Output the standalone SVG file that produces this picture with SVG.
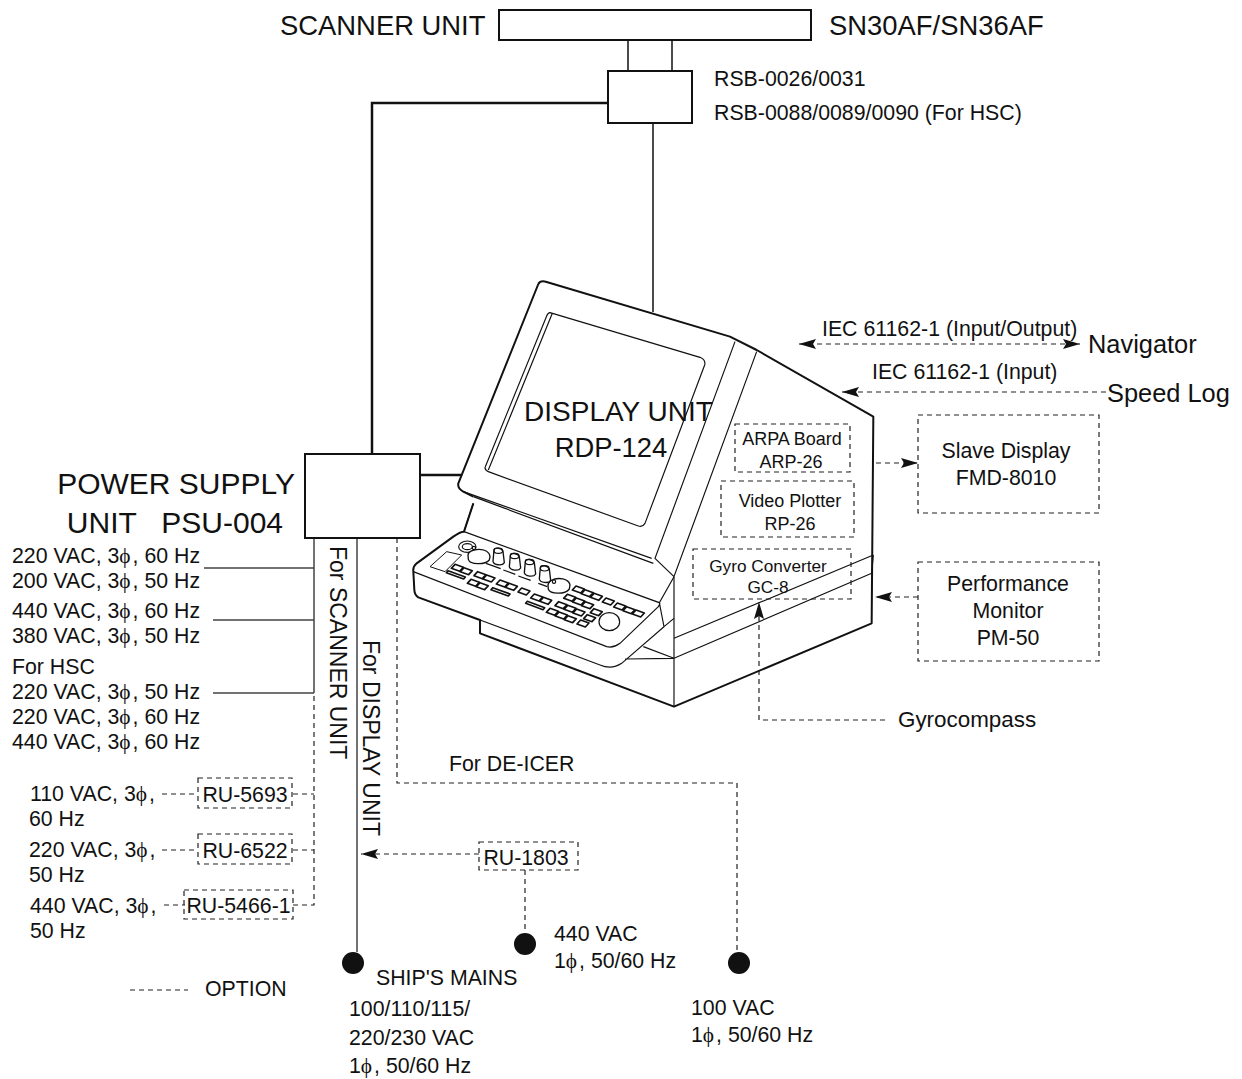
<svg xmlns="http://www.w3.org/2000/svg" xmlns:xlink="http://www.w3.org/1999/xlink" width="1242" height="1079" viewBox="0 0 1242 1079">
<style>
text{font-family:"Liberation Sans",Arial,sans-serif;fill:#111}
.s{font-size:21.3px}.m{font-size:27.4px}.l{font-size:30px}.x{font-size:18px}.nv{font-size:25.4px}.r{font-size:23px}
.p{font-family:"Liberation Serif",serif;letter-spacing:2px}
.ln{fill:none;stroke:#111;stroke-width:1.5}
.th{fill:none;stroke:#111;stroke-width:2.5}
.gr{fill:none;stroke:#444;stroke-width:1.5}
.d{fill:none;stroke:#222;stroke-width:1.2;stroke-dasharray:5 4}
.b{fill:#fff;stroke:#111;stroke-width:2}
.t{fill:none;stroke:#111;stroke-width:6;stroke-linejoin:round}
.n{fill:none;stroke:#111;stroke-width:3.5}
.w{fill:#fff;stroke:#111;stroke-width:4}
.k{fill:#fff;stroke:#111;stroke-width:5;stroke-linejoin:round}
</style>
<defs>
<marker id="a" markerWidth="19" markerHeight="12" refX="17" refY="6" orient="auto-start-reverse" markerUnits="userSpaceOnUse"><path d="M0,1 L17,6 L0,11 L3,6 Z" fill="#111"/></marker>
<path id="key" class="k" d="M0,0 L25,9 L14,21 L-11,12 Z"/>
<path id="bar" class="k" d="M0,0 L52,19 L47,25 L-5,6 Z"/>
<g id="knob"><path class="w" d="M-11,-22 L-14,12 C-12,23 14,27 20,16 L16,-18 C12,-29 -9,-31 -11,-22 Z"/><ellipse class="n" cx="2" cy="-20" rx="13" ry="8"/></g>
</defs>

<g id="connectors">
<path class="ln" d="M628,41V70M672,41V70"/>
<path class="th" d="M608,103H372V454"/>
<path class="ln" d="M653,122V312"/>
<path class="th" d="M420,475H461"/>
<path class="gr" d="M314,538V693M204,568H314M213,620H314M213,693H314"/>
<path class="d" d="M314,696V905H293M293,794H314M293,850H314"/>
<path class="d" d="M162,794H198M162,850H198M164,905H185"/>
<path class="gr" d="M357,538V952"/>
<path class="d" d="M397,538V783H737V952"/>
<path class="d" d="M479,854H361" marker-end="url(#a)"/>
<path class="d" d="M525,870V932"/>
<path class="d" d="M130,990H188"/>
<path class="d" d="M799,344H1080" marker-start="url(#a)" marker-end="url(#a)"/>
<path class="d" d="M1106,392H842" marker-end="url(#a)"/>
<path class="d" d="M876,463H918" marker-end="url(#a)"/>
<path class="d" d="M918,597H875" marker-end="url(#a)"/>
<path class="d" d="M885,720H759V602" marker-end="url(#a)"/>
</g>

<g id="display-unit">
<g transform="translate(410 270) scale(.33333)">
<path class="t" d="M385,42 Q391,30 410,36 L960,200 L1040,240 L1390,440 L1385,1060 L792,1310 L210,1090 V1050 L25,982 Q14,975 13,960 L10,905 Q8,890 20,880 L130,800 Q150,785 162,785 L190,700"/>
<path class="t" d="M385,42 L145,640 Q142,655 160,665 L190,680"/>
<path class="n" d="M160,665 L725,865 M190,680 L730,880 M975,215 L735,865 L792,920 M1040,245 L792,920 V1310"/>
<path class="n" d="M190,700 L162,785 M420,128 L870,262 Q888,270 884,285 L705,760 Q698,772 685,768 L235,605 Q222,598 226,590 L410,138 Q414,128 420,128 Z M427,130 L235,600"/>
<path class="n" d="M162,785 L748,998 L792,920 M10,905 L590,1130 Q610,1135 630,1120 L745,1010 Q752,1000 748,998 L762,1070 L635,1180 Q605,1200 570,1185 L210,1050 M762,1070 L792,1045 M700,1130 L792,1165 M645,1167 L792,1165 M792,1105 L1390,855 M792,1165 L1385,910 M1385,910 L1390,855"/>
</g>
<g transform="translate(410 520) scale(.33333)">
<path class="k" d="M60,140 L110,95 L155,105 L105,155 Z" style="stroke-width:3"/>
<ellipse class="n" cx="172" cy="80" rx="26" ry="17"/><ellipse class="n" cx="172" cy="80" rx="15" ry="9"/>
<path class="w" d="M174,105 C176,85 236,78 240,110 L238,120 C225,135 180,135 175,118 Z"/>
<path class="w" d="M414,195 C416,170 476,168 480,195 L478,207 C465,225 420,222 415,208 Z"/>
<circle cx="192" cy="84" r="5" class="n"/><circle cx="432" cy="185" r="5" class="n"/>
<path class="n" d="M228,130 L272,146 M280,150 L316,163 M325,168 L362,181 M385,190 L412,200"/>
<use xlink:href="#knob" href="#knob" x="263" y="112"/><use xlink:href="#knob" href="#knob" x="312" y="128"/><use xlink:href="#knob" href="#knob" x="357" y="146"/><use xlink:href="#knob" href="#knob" x="402" y="165"/>
<g>
<use xlink:href="#key" href="#key" x="135" y="133"/><use xlink:href="#key" href="#key" x="162" y="143"/><use xlink:href="#bar" href="#bar" x="114" y="152"/>
<use xlink:href="#key" href="#key" x="203" y="155"/><use xlink:href="#key" href="#key" x="230" y="165"/><use xlink:href="#key" href="#key" x="183" y="178"/><use xlink:href="#key" href="#key" x="210" y="188"/>
<use xlink:href="#key" href="#key" x="270" y="180"/><use xlink:href="#key" href="#key" x="297" y="190"/><use xlink:href="#bar" href="#bar" x="248" y="203"/>
<use xlink:href="#key" href="#key" x="335" y="204"/>
<use xlink:href="#key" href="#key" x="373" y="222"/><use xlink:href="#key" href="#key" x="400" y="232"/><use xlink:href="#bar" href="#bar" x="352" y="244"/>
<use xlink:href="#key" href="#key" x="498" y="198"/><use xlink:href="#key" href="#key" x="525" y="209"/><use xlink:href="#key" href="#key" x="552" y="220"/>
<use xlink:href="#key" href="#key" x="472" y="223"/><use xlink:href="#key" href="#key" x="499" y="234"/><use xlink:href="#key" href="#key" x="526" y="245"/>
<use xlink:href="#key" href="#key" x="446" y="245"/><use xlink:href="#key" href="#key" x="473" y="256"/><use xlink:href="#key" href="#key" x="500" y="267"/>
<use xlink:href="#key" href="#key" x="420" y="265"/><use xlink:href="#key" href="#key" x="447" y="276"/><use xlink:href="#key" href="#key" x="474" y="287"/>
<use xlink:href="#key" href="#key" x="588" y="234"/>
<use xlink:href="#key" href="#key" x="622" y="249"/><use xlink:href="#key" href="#key" x="650" y="260"/><use xlink:href="#key" href="#key" x="678" y="270"/>
<use xlink:href="#key" href="#key" x="552" y="266"/><use xlink:href="#key" href="#key" x="532" y="284"/><use xlink:href="#key" href="#key" x="512" y="300"/>
</g>
<ellipse class="n" cx="598" cy="305" rx="31" ry="27"/>
</g>
<text class="m" x="618.5" y="421" text-anchor="middle" style="font-size:28px">DISPLAY UNIT</text>
<text class="m" x="611" y="457" text-anchor="middle">RDP-124</text>
</g>

<g id="scanner-unit"><rect class="b" x="499" y="10" width="312" height="30"/>
<text class="m" x="280" y="35">SCANNER UNIT</text><text class="m" x="829" y="35">SN30AF/SN36AF</text></g>
<g id="rsb"><rect class="b" x="608" y="71" width="84" height="52"/>
<text class="s" x="714" y="86">RSB-0026/0031</text><text class="s" x="714" y="120">RSB-0088/0089/0090 (For HSC)</text></g>
<g id="psu"><rect class="b" x="305" y="454" width="115" height="84"/>
<text class="l" x="295" y="494" text-anchor="end">POWER SUPPLY</text><text class="l" x="283" y="533" text-anchor="end" xml:space="preserve">UNIT   PSU-004</text></g>
<g id="arpa"><rect class="d" x="735" y="424" width="115" height="48"/><text class="x" x="792" y="445" text-anchor="middle">ARPA Board</text><text class="x" x="791" y="468" text-anchor="middle">ARP-26</text></g>
<g id="plotter"><rect class="d" x="721" y="481" width="133" height="56"/><text class="x" x="790" y="507" text-anchor="middle">Video Plotter</text><text class="x" x="790" y="530" text-anchor="middle">RP-26</text></g>
<g id="gyroconv"><rect class="d" x="693" y="549" width="158" height="50"/><text class="x" x="768" y="572" text-anchor="middle" style="font-size:17.2px">Gyro Converter</text><text class="x" x="768" y="593" text-anchor="middle" style="font-size:17.2px">GC-8</text></g>
<g id="slave"><rect class="d" x="918" y="415" width="181" height="98"/><text class="s" x="1006" y="458" text-anchor="middle">Slave Display</text><text class="s" x="1006" y="485" text-anchor="middle">FMD-8010</text></g>
<g id="monitor"><rect class="d" x="918" y="562" width="181" height="99"/><text class="s" x="1008" y="591" text-anchor="middle">Performance</text><text class="s" x="1008" y="618" text-anchor="middle">Monitor</text><text class="s" x="1008" y="645" text-anchor="middle">PM-50</text></g>
<g id="navigator"><text class="s" x="822" y="336">IEC 61162-1 (Input/Output)</text><text class="nv" x="1088" y="353">Navigator</text></g>
<g id="speedlog"><text class="s" x="872" y="379">IEC 61162-1 (Input)</text><text class="nv" x="1107" y="402">Speed Log</text></g>
<g id="gyrocompass"><text class="s" x="898" y="727" style="font-size:22.4px">Gyrocompass</text></g>

<g id="mains-list">
<text class="s" x="12" y="563">220 VAC, 3<tspan class="p">ϕ</tspan>, 60 Hz</text>
<text class="s" x="12" y="588">200 VAC, 3<tspan class="p">ϕ</tspan>, 50 Hz</text>
<text class="s" x="12" y="618">440 VAC, 3<tspan class="p">ϕ</tspan>, 60 Hz</text>
<text class="s" x="12" y="643">380 VAC, 3<tspan class="p">ϕ</tspan>, 50 Hz</text>
<text class="s" x="12" y="674">For HSC</text>
<text class="s" x="12" y="699">220 VAC, 3<tspan class="p">ϕ</tspan>, 50 Hz</text>
<text class="s" x="12" y="724">220 VAC, 3<tspan class="p">ϕ</tspan>, 60 Hz</text>
<text class="s" x="12" y="749">440 VAC, 3<tspan class="p">ϕ</tspan>, 60 Hz</text>
<text class="s" x="30" y="801">110 VAC, 3<tspan class="p">ϕ</tspan>,</text><text class="s" x="29" y="826">60 Hz</text>
<text class="s" x="29" y="857">220 VAC, 3<tspan class="p">ϕ</tspan>,</text><text class="s" x="29" y="882">50 Hz</text>
<text class="s" x="30" y="913">440 VAC, 3<tspan class="p">ϕ</tspan>,</text><text class="s" x="30" y="938">50 Hz</text>
</g>
<g id="ru5693"><rect class="d" x="198" y="778" width="94" height="30"/><text class="s" x="245" y="802" text-anchor="middle">RU-5693</text></g>
<g id="ru6522"><rect class="d" x="198" y="834" width="94" height="30"/><text class="s" x="245" y="858" text-anchor="middle">RU-6522</text></g>
<g id="ru5466"><rect class="d" x="184" y="890" width="109" height="29"/><text class="s" x="238.500" y="913" text-anchor="middle">RU-5466-1</text></g>
<g id="ru1803"><rect class="d" x="479" y="842" width="99" height="28"/><text class="s" x="526" y="865" text-anchor="middle">RU-1803</text></g>
<text class="r" transform="translate(330 546) rotate(90)">For SCANNER UNIT</text>
<text class="r" transform="translate(363 640) rotate(90)">For DISPLAY UNIT</text>
<text class="s" x="449" y="771">For DE-ICER</text>

<g id="mains-a"><circle cx="353" cy="963" r="11" fill="#111"/><text class="s" x="376" y="985">SHIP'S MAINS</text><text class="s" x="349" y="1016">100/110/115/</text><text class="s" x="349" y="1045">220/230 VAC</text><text class="s" x="349" y="1073">1<tspan class="p">ϕ</tspan>, 50/60 Hz</text></g>
<g id="mains-b"><circle cx="525" cy="944" r="11" fill="#111"/><text class="s" x="554" y="941">440 VAC</text><text class="s" x="554" y="968">1<tspan class="p">ϕ</tspan>, 50/60 Hz</text></g>
<g id="mains-c"><circle cx="739" cy="963" r="11" fill="#111"/><text class="s" x="691" y="1015">100 VAC</text><text class="s" x="691" y="1042">1<tspan class="p">ϕ</tspan>, 50/60 Hz</text></g>
<text class="s" x="205" y="996">OPTION</text>
</svg>
